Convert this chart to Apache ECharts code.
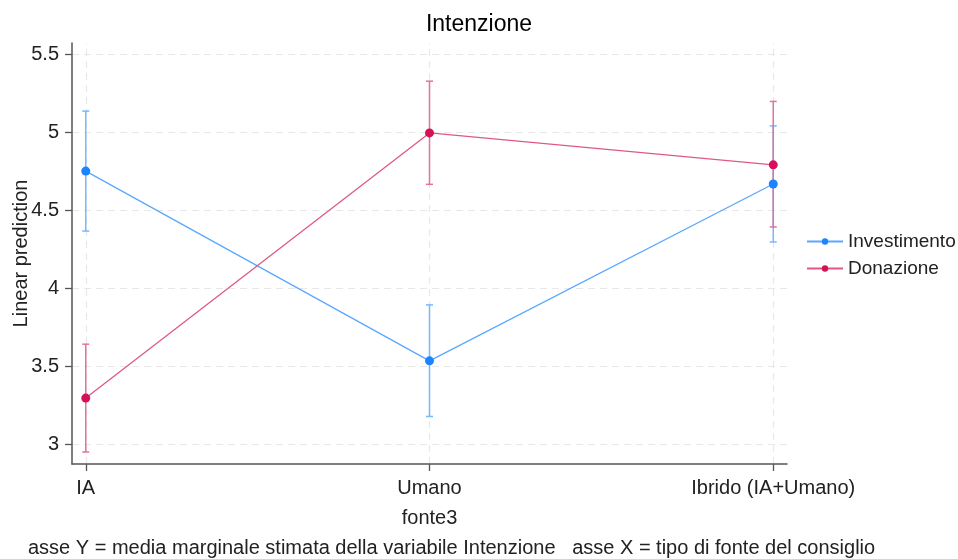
<!DOCTYPE html>
<html><head><meta charset="utf-8">
<script src="https://cdn.jsdelivr.net/npm/echarts@6/dist/echarts.min.js"></script>
<style>html,body{margin:0;padding:0;background:#fff}#c{width:958px;height:559px}</style>
</head><body><div id="c"></div>
<script>
const categories = ['IA', 'Umano', 'Ibrido (IA+Umano)'];
const investimento = [4.752, 3.534, 4.669];
const investimentoLo = [4.367, 3.177, 4.297];
const investimentoHi = [5.137, 3.893, 5.042];
const donazione = [3.295, 4.997, 4.792];
const donazioneLo = [2.949, 4.667, 4.393];
const donazioneHi = [3.641, 5.329, 5.199];
const yTicks = [3, 3.5, 4, 4.5, 5, 5.5];
const yTickLabels = ['3', '3.5', '4', '4.5', '5', '5.5'];

const FONT = '"Liberation Sans", Arial, sans-serif';
const TXT = '#222';
const blueDot = '#1a85ff', blueLine = '#5aa8ff', blueBar = '#78b8ff';
const redDot = '#d41159', redLine = '#df5a82', redBar = '#e2739a';

function errSeries(name, lo, hi, color) {
  return {
    type: 'custom', name: name, silent: true, z: 2,
    data: categories.map((c, i) => [i, lo[i], hi[i]]),
    renderItem: function (params, api) {
      const x = api.value(0);
      const p1 = api.coord([x, api.value(1)]);
      const p2 = api.coord([x, api.value(2)]);
      const w = 3.5;
      const st = { stroke: color, lineWidth: 1.5 };
      return { type: 'group', children: [
        { type: 'line', shape: { x1: p1[0], y1: p1[1], x2: p2[0], y2: p2[1] }, style: st },
        { type: 'line', shape: { x1: p1[0] - w, y1: p1[1], x2: p1[0] + w, y2: p1[1] }, style: st },
        { type: 'line', shape: { x1: p2[0] - w, y1: p2[1], x2: p2[0] + w, y2: p2[1] }, style: st }
      ]};
    }
  };
}

const chart = echarts.init(document.getElementById('c'), null, { renderer: 'canvas' });
chart.setOption({
  backgroundColor: '#fff',
  animation: false,
  textStyle: { fontFamily: FONT },
  title: { text: 'Intenzione', left: 'center', top: 8,
    textStyle: { fontFamily: FONT, fontSize: 23, fontWeight: 'normal', color: '#000' } },
  grid: { left: 72, right: 171, top: 43, bottom: 95, containLabel: false, outerBoundsMode: 'none' },
  legend: {
    orient: 'vertical', left: 801, top: 227, itemWidth: 36, itemHeight: 8, itemGap: 8,
    data: ['Investimento', 'Donazione'],
    textStyle: { fontFamily: FONT, fontSize: 19, color: TXT }
  },
  xAxis: {
    type: 'value', min: -0.04, max: 2.04,
    name: 'fonte3', nameLocation: 'middle', nameGap: 44, nameMoveOverlap: false,
    nameTextStyle: { fontFamily: FONT, fontSize: 20, color: TXT },
    axisLine: { show: true, onZero: false, lineStyle: { color: '#555', width: 1.5 } },
    axisTick: { show: true, length: 7, customValues: [0, 1, 2], lineStyle: { color: '#555', width: 1.3 } },
    axisLabel: { customValues: [0, 1, 2], formatter: v => categories[Math.round(v)], margin: 14,
      fontFamily: FONT, fontSize: 20, color: TXT },
    splitLine: { show: false }
  },
  yAxis: {
    type: 'value', min: 2.872, max: 5.574,
    name: 'Linear prediction', nameLocation: 'middle', nameGap: 41, nameRotate: 90, nameMoveOverlap: false,
    nameTextStyle: { fontFamily: FONT, fontSize: 20, color: TXT },
    axisLine: { show: true, onZero: false, lineStyle: { color: '#555', width: 1.5 } },
    axisTick: { show: true, length: 7, customValues: yTicks, lineStyle: { color: '#555', width: 1.3 } },
    axisLabel: { customValues: yTicks, formatter: v => yTickLabels[yTicks.indexOf(+(+v).toFixed(1))] ?? '', margin: 13,
      fontFamily: FONT, fontSize: 20, color: TXT },
    splitLine: { show: false }
  },
  series: [
    {
      type: 'line', name: '__grid', silent: true, data: [], symbol: 'none', z: 0,
      markLine: {
        silent: true, symbol: 'none', label: { show: false }, z: 0,
        lineStyle: { color: '#e8e8e8', type: [7, 5], width: 1.2 },
        data: yTicks.map(v => ({ yAxis: v })).concat([0, 1, 2].map(v => ({ xAxis: v })))
      }
    },
    errSeries('errInv', investimentoLo, investimentoHi, blueBar),
    errSeries('errDon', donazioneLo, donazioneHi, redBar),
    {
      type: 'line', name: 'Investimento', z: 3,
      data: categories.map((c, i) => [i, investimento[i]]),
      symbol: 'circle', symbolSize: 9,
      itemStyle: { color: blueDot },
      lineStyle: { color: blueLine, width: 1.3 }
    },
    {
      type: 'line', name: 'Donazione', z: 3,
      data: categories.map((c, i) => [i, donazione[i]]),
      symbol: 'circle', symbolSize: 9,
      itemStyle: { color: redDot },
      lineStyle: { color: redLine, width: 1.3 }
    }
  ],
  graphic: [{
    type: 'text', left: 28, top: 538,
    style: { text: 'asse Y = media marginale stimata della variabile Intenzione   asse X = tipo di fonte del consiglio',
      font: '20px ' + FONT, fill: TXT }
  }]
});
</script></body></html>
